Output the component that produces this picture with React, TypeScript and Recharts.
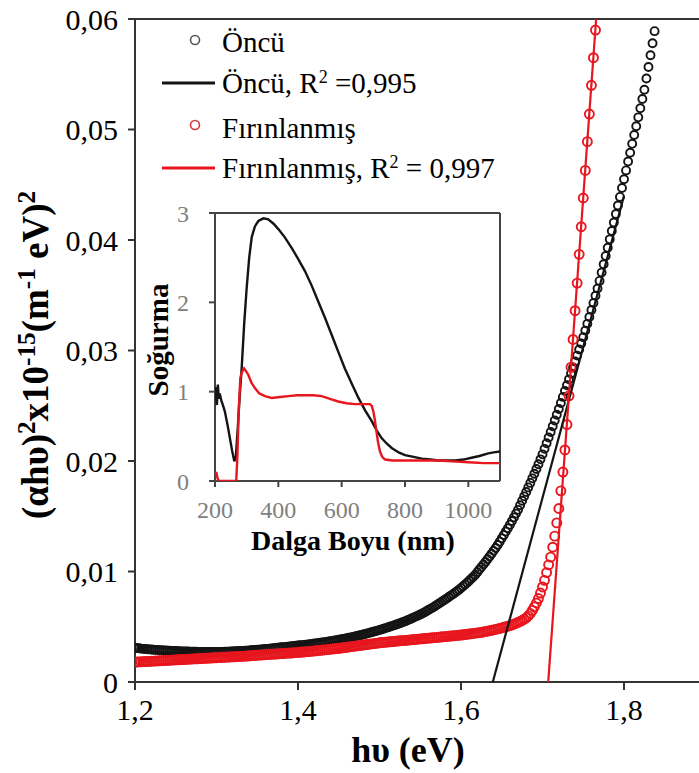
import React from 'react';
import { ScatterChart, Scatter, XAxis, YAxis, ReferenceLine, Legend } from 'recharts';

const FONT = 'Liberation Serif, DejaVu Serif, serif';
const BLACK = '#141414';
const RED = '#e8161e';
const AXIS = '#333333';

// Photon energy grid, low-energy part (eV)
const gridLow = [
  1.2000, 1.2025, 1.2050, 1.2075, 1.2100, 1.2125, 1.2150, 1.2175,
  1.2200, 1.2225, 1.2250, 1.2275, 1.2300, 1.2325, 1.2350, 1.2375,
  1.2400, 1.2425, 1.2450, 1.2475, 1.2500, 1.2525, 1.2550, 1.2575,
  1.2600, 1.2625, 1.2650, 1.2675, 1.2700, 1.2725, 1.2750, 1.2775,
  1.2800, 1.2825, 1.2850, 1.2875, 1.2900, 1.2925, 1.2950, 1.2975,
  1.3000, 1.3025, 1.3050, 1.3075, 1.3100, 1.3125, 1.3150, 1.3175,
  1.3200, 1.3225, 1.3250, 1.3275, 1.3300, 1.3325, 1.3350, 1.3375,
  1.3400, 1.3425, 1.3450, 1.3475, 1.3500, 1.3525, 1.3550, 1.3575,
  1.3600, 1.3625, 1.3650, 1.3675, 1.3700, 1.3725, 1.3750, 1.3775,
  1.3800, 1.3825, 1.3850, 1.3875, 1.3900, 1.3925, 1.3950, 1.3975,
  1.4000, 1.4025, 1.4050, 1.4075, 1.4100, 1.4125, 1.4150, 1.4175,
  1.4200, 1.4225, 1.4250, 1.4275, 1.4300, 1.4325, 1.4350, 1.4375,
  1.4400, 1.4425, 1.4450, 1.4475, 1.4500, 1.4525, 1.4550, 1.4575,
  1.4600, 1.4625, 1.4650, 1.4675, 1.4700, 1.4725, 1.4750, 1.4775,
  1.4800, 1.4825, 1.4850, 1.4875, 1.4900, 1.4925, 1.4950, 1.4975,
  1.5000, 1.5025, 1.5050, 1.5075, 1.5100, 1.5125, 1.5150, 1.5175,
  1.5200, 1.5225, 1.5250, 1.5275, 1.5300, 1.5325, 1.5350, 1.5375,
  1.5400, 1.5425, 1.5450, 1.5475, 1.5500, 1.5525, 1.5550, 1.5575,
  1.5600, 1.5625, 1.5650, 1.5675, 1.5700, 1.5725, 1.5750, 1.5775,
  1.5800, 1.5825, 1.5850, 1.5875, 1.5900, 1.5925, 1.5950, 1.5975,
  1.6000, 1.6025, 1.6050, 1.6075, 1.6100, 1.6125, 1.6150, 1.6175,
  1.6200, 1.6225, 1.6250, 1.6275, 1.6300, 1.6325, 1.6350, 1.6375,
  1.6400, 1.6425, 1.6450, 1.6475, 1.6500, 1.6525, 1.6550, 1.6575,
  1.6600, 1.6625, 1.6650, 1.6675, 1.6700, 1.6725, 1.6750, 1.6775,
  1.6800, 1.6825, 1.6850, 1.6875, 1.6900,
];
// Photon energy grid, absorption-edge part (eV)
const gridEdge = [
  1.5525, 1.5550, 1.5575, 1.5600, 1.5625, 1.5650, 1.5675, 1.5700, 1.5725, 1.5750,
  1.5775, 1.5800, 1.5825, 1.5850, 1.5875, 1.5900, 1.5925, 1.5950, 1.5975, 1.6000,
  1.6025, 1.6050, 1.6075, 1.6100, 1.6125, 1.6150, 1.6175, 1.6200, 1.6225, 1.6250,
  1.6275, 1.6300, 1.6325, 1.6350, 1.6375, 1.6400, 1.6425, 1.6450, 1.6475, 1.6500,
  1.6525, 1.6550, 1.6575, 1.6600, 1.6625, 1.6650, 1.6675, 1.6700, 1.6725, 1.6750,
  1.6775, 1.6800, 1.6825, 1.6850, 1.6875, 1.6900, 1.6925, 1.6950, 1.6975, 1.7000,
  1.7025, 1.7050, 1.7075, 1.7100, 1.7125, 1.7150, 1.7175, 1.7200, 1.7225, 1.7250,
  1.7275, 1.7300, 1.7325, 1.7350, 1.7375, 1.7400, 1.7425, 1.7450, 1.7475, 1.7500,
  1.7525, 1.7550, 1.7575, 1.7600, 1.7625, 1.7650, 1.7675, 1.7700, 1.7725, 1.7750,
  1.7775, 1.7800, 1.7825, 1.7850, 1.7875, 1.7900, 1.7925, 1.7950, 1.7975, 1.8000,
  1.8025, 1.8050, 1.8075, 1.8100, 1.8125, 1.8150, 1.8175, 1.8200, 1.8225, 1.8250,
  1.8275, 1.8300, 1.8325, 1.8350, 1.8375,
];

// Öncü (precursor) (αhυ)² values, 1.2000–1.5500 eV
const oncuLow = [
  3.10e-3, 3.07e-3, 3.05e-3, 3.02e-3, 3.00e-3, 2.99e-3, 2.97e-3, 2.95e-3,
  2.94e-3, 2.92e-3, 2.91e-3, 2.89e-3, 2.88e-3, 2.87e-3, 2.86e-3, 2.85e-3,
  2.84e-3, 2.83e-3, 2.82e-3, 2.81e-3, 2.80e-3, 2.79e-3, 2.78e-3, 2.77e-3,
  2.77e-3, 2.76e-3, 2.76e-3, 2.75e-3, 2.75e-3, 2.74e-3, 2.74e-3, 2.73e-3,
  2.73e-3, 2.72e-3, 2.72e-3, 2.72e-3, 2.72e-3, 2.72e-3, 2.72e-3, 2.72e-3,
  2.72e-3, 2.72e-3, 2.73e-3, 2.73e-3, 2.74e-3, 2.74e-3, 2.75e-3, 2.76e-3,
  2.77e-3, 2.78e-3, 2.79e-3, 2.80e-3, 2.81e-3, 2.82e-3, 2.83e-3, 2.84e-3,
  2.86e-3, 2.87e-3, 2.89e-3, 2.90e-3, 2.92e-3, 2.93e-3, 2.95e-3, 2.96e-3,
  2.98e-3, 3.00e-3, 3.02e-3, 3.04e-3, 3.06e-3, 3.08e-3, 3.10e-3, 3.12e-3,
  3.14e-3, 3.16e-3, 3.18e-3, 3.20e-3, 3.22e-3, 3.24e-3, 3.26e-3, 3.28e-3,
  3.30e-3, 3.32e-3, 3.34e-3, 3.36e-3, 3.38e-3, 3.40e-3, 3.43e-3, 3.45e-3,
  3.48e-3, 3.50e-3, 3.53e-3, 3.55e-3, 3.58e-3, 3.60e-3, 3.63e-3, 3.66e-3,
  3.69e-3, 3.72e-3, 3.75e-3, 3.78e-3, 3.82e-3, 3.85e-3, 3.89e-3, 3.92e-3,
  3.96e-3, 4.00e-3, 4.04e-3, 4.08e-3, 4.12e-3, 4.16e-3, 4.21e-3, 4.25e-3,
  4.30e-3, 4.35e-3, 4.40e-3, 4.45e-3, 4.50e-3, 4.55e-3, 4.60e-3, 4.65e-3,
  4.71e-3, 4.76e-3, 4.82e-3, 4.88e-3, 4.94e-3, 5.00e-3, 5.06e-3, 5.12e-3,
  5.19e-3, 5.25e-3, 5.32e-3, 5.39e-3, 5.46e-3, 5.53e-3, 5.61e-3, 5.69e-3,
  5.77e-3, 5.85e-3, 5.94e-3, 6.02e-3, 6.11e-3,
];
// Öncü, 1.5525–1.8375 eV
const oncuEdge = [
  6.20e-3, 6.30e-3, 6.40e-3, 6.51e-3, 6.62e-3, 6.73e-3, 6.84e-3, 6.96e-3, 7.08e-3, 7.20e-3,
  7.32e-3, 7.44e-3, 7.56e-3, 7.69e-3, 7.82e-3, 7.95e-3, 8.08e-3, 8.21e-3, 8.35e-3, 8.50e-3,
  8.66e-3, 8.82e-3, 8.99e-3, 9.16e-3, 9.34e-3, 9.52e-3, 9.71e-3, 9.94e-3, 10.17e-3, 10.40e-3,
  10.63e-3, 10.87e-3, 11.11e-3, 11.36e-3, 11.61e-3, 11.87e-3, 12.13e-3, 12.40e-3, 12.70e-3, 13.00e-3,
  13.30e-3, 13.61e-3, 13.92e-3, 14.24e-3, 14.57e-3, 14.90e-3, 15.24e-3, 15.58e-3, 15.99e-3, 16.40e-3,
  16.80e-3, 17.20e-3, 17.61e-3, 18.02e-3, 18.43e-3, 18.85e-3, 19.27e-3, 19.70e-3, 20.15e-3, 20.60e-3,
  21.10e-3, 21.61e-3, 22.12e-3, 22.63e-3, 23.14e-3, 23.66e-3, 24.18e-3, 24.71e-3, 25.25e-3, 25.80e-3,
  26.33e-3, 26.86e-3, 27.39e-3, 27.92e-3, 28.46e-3, 29.00e-3, 29.54e-3, 30.09e-3, 30.64e-3, 31.20e-3,
  31.80e-3, 32.41e-3, 33.03e-3, 33.66e-3, 34.30e-3, 34.95e-3, 35.60e-3, 36.30e-3, 37.05e-3, 37.80e-3,
  38.55e-3, 39.30e-3, 40.06e-3, 40.82e-3, 41.58e-3, 42.35e-3, 43.12e-3, 43.90e-3, 44.70e-3, 45.50e-3,
  46.30e-3, 47.10e-3, 47.90e-3, 48.70e-3, 49.50e-3, 50.30e-3, 51.10e-3, 51.92e-3, 52.76e-3, 53.60e-3,
  54.62e-3, 55.66e-3, 56.72e-3, 57.80e-3, 58.90e-3,
];

// Fırınlanmış (annealed) (αhυ)² values, 1.2000–1.6900 eV
const firinLow = [
  1.80e-3, 1.81e-3, 1.82e-3, 1.83e-3, 1.84e-3, 1.85e-3, 1.86e-3, 1.87e-3,
  1.88e-3, 1.89e-3, 1.90e-3, 1.91e-3, 1.92e-3, 1.93e-3, 1.94e-3, 1.95e-3,
  1.96e-3, 1.97e-3, 1.98e-3, 1.99e-3, 2.00e-3, 2.01e-3, 2.02e-3, 2.03e-3,
  2.04e-3, 2.05e-3, 2.06e-3, 2.07e-3, 2.08e-3, 2.09e-3, 2.10e-3, 2.11e-3,
  2.12e-3, 2.13e-3, 2.14e-3, 2.15e-3, 2.16e-3, 2.17e-3, 2.18e-3, 2.19e-3,
  2.20e-3, 2.21e-3, 2.22e-3, 2.23e-3, 2.24e-3, 2.25e-3, 2.26e-3, 2.27e-3,
  2.28e-3, 2.29e-3, 2.30e-3, 2.31e-3, 2.32e-3, 2.33e-3, 2.34e-3, 2.35e-3,
  2.37e-3, 2.38e-3, 2.40e-3, 2.41e-3, 2.42e-3, 2.43e-3, 2.45e-3, 2.46e-3,
  2.47e-3, 2.48e-3, 2.50e-3, 2.51e-3, 2.52e-3, 2.53e-3, 2.55e-3, 2.56e-3,
  2.57e-3, 2.58e-3, 2.60e-3, 2.61e-3, 2.62e-3, 2.63e-3, 2.65e-3, 2.66e-3,
  2.68e-3, 2.69e-3, 2.71e-3, 2.72e-3, 2.74e-3, 2.75e-3, 2.77e-3, 2.79e-3,
  2.81e-3, 2.83e-3, 2.85e-3, 2.87e-3, 2.89e-3, 2.91e-3, 2.93e-3, 2.95e-3,
  2.97e-3, 2.99e-3, 3.01e-3, 3.03e-3, 3.05e-3, 3.07e-3, 3.10e-3, 3.12e-3,
  3.15e-3, 3.17e-3, 3.20e-3, 3.22e-3, 3.25e-3, 3.27e-3, 3.30e-3, 3.32e-3,
  3.35e-3, 3.37e-3, 3.40e-3, 3.42e-3, 3.45e-3, 3.47e-3, 3.50e-3, 3.52e-3,
  3.55e-3, 3.57e-3, 3.59e-3, 3.60e-3, 3.62e-3, 3.64e-3, 3.66e-3, 3.67e-3,
  3.69e-3, 3.71e-3, 3.73e-3, 3.74e-3, 3.76e-3, 3.77e-3, 3.79e-3, 3.81e-3,
  3.83e-3, 3.84e-3, 3.86e-3, 3.88e-3, 3.90e-3, 3.91e-3, 3.93e-3, 3.95e-3,
  3.97e-3, 3.98e-3, 4.00e-3, 4.02e-3, 4.04e-3, 4.05e-3, 4.07e-3, 4.09e-3,
  4.11e-3, 4.12e-3, 4.14e-3, 4.16e-3, 4.18e-3, 4.19e-3, 4.21e-3, 4.23e-3,
  4.25e-3, 4.27e-3, 4.30e-3, 4.32e-3, 4.35e-3, 4.37e-3, 4.40e-3, 4.42e-3,
  4.45e-3, 4.47e-3, 4.50e-3, 4.53e-3, 4.57e-3, 4.60e-3, 4.64e-3, 4.68e-3,
  4.72e-3, 4.76e-3, 4.81e-3, 4.85e-3, 4.90e-3, 4.95e-3, 5.00e-3, 5.05e-3,
  5.10e-3, 5.17e-3, 5.24e-3, 5.32e-3, 5.40e-3, 5.49e-3, 5.58e-3, 5.69e-3,
  5.80e-3, 5.98e-3, 6.20e-3, 6.48e-3, 6.80e-3,
];
// Fırınlanmış, 1.6925–1.7650 eV
const firinEdge = [
  7.15e-3, 7.55e-3, 8.05e-3, 8.60e-3, 9.20e-3, 9.90e-3, 10.60e-3, 11.30e-3, 12.20e-3, 13.20e-3,
  14.40e-3, 15.70e-3, 17.30e-3, 19.00e-3, 21.00e-3, 23.30e-3, 25.90e-3, 28.50e-3, 31.00e-3, 33.60e-3,
  36.10e-3, 38.70e-3, 41.20e-3, 43.80e-3, 46.30e-3, 48.90e-3, 51.40e-3, 54.00e-3, 56.50e-3, 59.00e-3,
];

// Linear (Tauc) fits
const oncuFitE = [1.639, 1.800];
const oncuFitV = [0, 0.0440];
const firinFitE = [1.707, 1.7658];
const firinFitV = [0, 0.060];

const mainXTicks = [1.2, 1.4, 1.6, 1.8];
const mainYTicks = [0, 0.01, 0.02, 0.03, 0.04, 0.05, 0.06];

// Inset: absorbance vs wavelength
const insetOncuNm = [
  200, 203, 206, 209, 212, 215, 220, 225, 231, 240, 247, 254, 261, 266, 272, 278, 284, 292, 300, 308,
  316, 326, 337, 353, 368, 385, 400, 420, 442, 462, 484, 505, 526, 547, 568, 590, 610, 632, 653, 674,
  695, 710, 726, 742, 758, 780, 800, 827, 853, 880, 905, 930, 958, 985, 1010, 1035, 1063, 1080, 1100,
];
const insetOncuAbs = [
  0.90, 1.05, 0.85, 1.08, 0.92, 0.98, 0.90, 0.85, 0.78, 0.62, 0.48, 0.34, 0.22, 0.28, 0.60, 0.95, 1.25, 1.75, 2.16, 2.50,
  2.73, 2.85, 2.91, 2.94, 2.93, 2.88, 2.82, 2.73, 2.61, 2.49, 2.35, 2.19, 2.01, 1.83, 1.64, 1.44, 1.26, 1.09, 0.93, 0.79,
  0.67, 0.57, 0.48, 0.42, 0.37, 0.32, 0.29, 0.27, 0.25, 0.24, 0.23, 0.23, 0.23, 0.24, 0.26, 0.28, 0.31, 0.32, 0.33,
];
const insetFirinNm = [
  200, 204, 208, 212, 220, 240, 267, 271, 275, 280, 285, 292, 298, 305, 315, 326, 340, 358, 379, 405,
  432, 460, 484, 510, 537, 563, 589, 615, 642, 665, 689, 695, 700, 705, 710, 715, 721, 728, 737, 760,
  800, 850, 905, 950, 1000, 1050, 1100,
];
const insetFirinAbs = [
  0.05, 0.10, 0.03, 0.0, 0.0, 0.0, 0.0, 0.30, 0.80, 1.15, 1.22, 1.26, 1.23, 1.19, 1.10, 1.04, 0.98, 0.95, 0.93, 0.94,
  0.95, 0.96, 0.96, 0.96, 0.95, 0.92, 0.89, 0.87, 0.86, 0.86, 0.86, 0.84, 0.78, 0.68, 0.55, 0.43, 0.33, 0.27, 0.24, 0.23,
  0.23, 0.23, 0.23, 0.22, 0.21, 0.20, 0.20,
];
const insetXTicks = [200, 400, 600, 800, 1000];
const insetYTicks = [0, 1, 2, 3];

const pts = (es: number[], vs: number[]) => es.map((e, i) => ({ e, v: vs[i] }));

const oncuData = [...pts(gridLow.slice(0, oncuLow.length), oncuLow), ...pts(gridEdge, oncuEdge)];
const firinData = [...pts(gridLow, firinLow), ...pts(gridEdge.slice(56, 56 + firinEdge.length), firinEdge)];
const oncuFit = pts(oncuFitE, oncuFitV);
const firinFit = pts(firinFitE, firinFitV);
const insetOncu = insetOncuNm.map((nm, i) => ({ nm, a: insetOncuAbs[i] }));
const insetFirin = insetFirinNm.map((nm, i) => ({ nm, a: insetFirinAbs[i] }));

const ring = (color: string, r: number, w: number) => (props: any) =>
  <circle cx={props.cx} cy={props.cy} r={r} fill="none" stroke={color} strokeWidth={w} />;
const noShape = () => <g />;

const comma = (v: number, d: number) => (v === 0 ? '0' : v.toFixed(d).replace('.', ','));

const sup = (s: string, size = '62%') => (
  <tspan baselineShift="super" fontSize={size}>{s}</tspan>
);

const LegendBox = () => (
  <svg width={420} height={180} style={{ overflow: 'visible' }}>
    <g fontFamily={FONT} style={{ fontFamily: FONT }} fontSize={29} fill="#000">
      <circle cx={45} cy={22} r={4.5} fill="none" stroke="#555" strokeWidth={1.6} />
      <text x={72} y={34}>Öncü</text>
      <line x1={12} x2={65} y1={65} y2={65} stroke={BLACK} strokeWidth={3} />
      <text x={72} y={75}>Öncü, R{sup('2')} =0,995</text>
      <circle cx={45} cy={107} r={4.5} fill="none" stroke="#d23a3a" strokeWidth={1.6} />
      <text x={72} y={120}>Fırınlanmış</text>
      <line x1={12} x2={65} y1={150} y2={150} stroke={RED} strokeWidth={3} />
      <text x={72} y={160}>Fırınlanmış, R{sup('2')} = 0,997</text>
    </g>
  </svg>
);

const YMainLabel = () => (
  <text
    x={35}
    y={355}
    transform="rotate(-90, 35, 355)"
    textAnchor="middle"
    fontFamily={FONT}
    style={{ fontFamily: FONT }}
    fontWeight="bold"
    fontSize={37}
    fill="#000"
    dy={13}
  >
    (αhυ){sup('2', '68%')}x10{sup('-15', '68%')}(m{sup('-1', '68%')} eV){sup('2', '68%')}
  </text>
);

const XMainLabel = () => (
  <text x={408} y={762} textAnchor="middle" fontFamily={FONT} style={{ fontFamily: FONT }} fontWeight="bold" fontSize={36} fill="#000">
    hυ (eV)
  </text>
);

const mainTick = { fontSize: 30, fill: '#000', fontFamily: FONT, style: { fontFamily: FONT } };
const insetTick = { fontSize: 24, fill: '#808080', fontFamily: FONT, style: { fontFamily: FONT } };

export default function App() {
  return (
    <div style={{ position: 'absolute', left: 0, top: 0, width: 699, height: 773, background: '#fff', fontFamily: FONT }}>
      <ScatterChart width={699} height={773} margin={{ top: 19, right: 0, bottom: 31, left: 35 }} style={{ fontFamily: FONT }}>
        <XAxis
          type="number"
          dataKey="e"
          domain={[1.2, 1.892]}
          ticks={mainXTicks}
          allowDataOverflow
          height={60}
          tickSize={8}
          tickMargin={9}
          tickFormatter={(v: number) => comma(v, 1)}
          tick={mainTick}
          axisLine={{ stroke: AXIS, strokeWidth: 2 }}
          tickLine={{ stroke: AXIS, strokeWidth: 2 }}
          label={() => <XMainLabel />}
        />
        <YAxis
          type="number"
          dataKey="v"
          domain={[0, 0.06]}
          ticks={mainYTicks}
          allowDataOverflow
          width={100}
          tickSize={7}
          tickMargin={10}
          tickFormatter={(v: number) => comma(v, 2)}
          tick={mainTick}
          axisLine={{ stroke: AXIS, strokeWidth: 2 }}
          tickLine={{ stroke: AXIS, strokeWidth: 2 }}
          label={() => <YMainLabel />}
        />
        <ReferenceLine y={0.06} stroke={AXIS} strokeWidth={2} />
        <Scatter name="Öncü" data={oncuData} shape={ring(BLACK, 4, 1.9)} isAnimationActive={false} />
        <Scatter name="Fırınlanmış" data={firinData} shape={ring(RED, 4.5, 1.9)} isAnimationActive={false} />
        <Scatter
          name="Öncü, R² =0,995"
          data={oncuFit}
          shape={noShape}
          line={{ stroke: BLACK, strokeWidth: 2.2 }}
          lineType="joint"
          isAnimationActive={false}
        />
        <Scatter
          name="Fırınlanmış, R² = 0,997"
          data={firinFit}
          shape={noShape}
          line={{ stroke: RED, strokeWidth: 2.2 }}
          lineType="joint"
          isAnimationActive={false}
        />
        <Legend
          layout="horizontal"
          verticalAlign="middle"
          align="center"
          wrapperStyle={{ left: 150, top: 18, width: 420, height: 180 }}
          content={() => <LegendBox />}
        />
      </ScatterChart>

      <div style={{ position: 'absolute', left: 140, top: 200 }}>
        <ScatterChart width={365} height={360} margin={{ top: 13, right: 5, bottom: 24, left: 25 }} style={{ fontFamily: FONT }}>
          <XAxis
            type="number"
            dataKey="nm"
            domain={[200, 1100]}
            ticks={insetXTicks}
            allowDataOverflow
            height={55}
            tickSize={6}
            tickMargin={14}
            tick={insetTick}
            axisLine={{ stroke: '#444', strokeWidth: 2 }}
            tickLine={{ stroke: '#444', strokeWidth: 2 }}
            label={() => (
              <text x={213} y={350} textAnchor="middle" fontFamily={FONT} style={{ fontFamily: FONT }} fontWeight="bold" fontSize={28} fill="#000">
                Dalga Boyu (nm)
              </text>
            )}
          />
          <YAxis
            type="number"
            dataKey="a"
            domain={[0, 3]}
            ticks={insetYTicks}
            allowDataOverflow
            width={50}
            tickSize={6}
            tickMargin={20}
            tick={insetTick}
            axisLine={{ stroke: '#444', strokeWidth: 2 }}
            tickLine={{ stroke: '#444', strokeWidth: 2 }}
            label={() => (
              <text
                x={18}
                y={140}
                transform="rotate(-90, 18, 140)"
                textAnchor="middle"
                dy={10}
                fontFamily={FONT}
                style={{ fontFamily: FONT }}
                fontWeight="bold"
                fontSize={29}
                fill="#000"
              >
                Soğurma
              </text>
            )}
          />
          <ReferenceLine y={3} stroke="#444" strokeWidth={2} />
          <ReferenceLine x={1100} stroke="#444" strokeWidth={2} />
          <Scatter
            data={insetOncu}
            shape={noShape}
            line={{ stroke: BLACK, strokeWidth: 2.4 }}
            lineType="joint"
            isAnimationActive={false}
          />
          <Scatter
            data={insetFirin}
            shape={noShape}
            line={{ stroke: RED, strokeWidth: 2.4 }}
            lineType="joint"
            isAnimationActive={false}
          />
        </ScatterChart>
      </div>
    </div>
  );
}
